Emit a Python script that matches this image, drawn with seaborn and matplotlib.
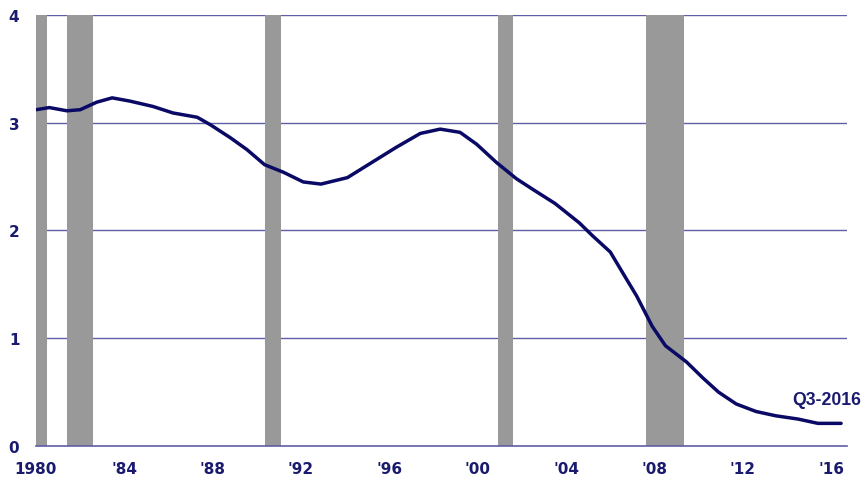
import pandas as pd
import matplotlib
matplotlib.use('Agg')
import matplotlib.pyplot as plt
import seaborn as sns

# values
years = [1980.0, 1980.6, 1981.4, 1982.0, 1982.75, 1983.45, 1984.25, 1985.3, 1986.2,
         1987.3, 1987.9, 1988.8, 1989.55, 1990.35, 1991.2, 1992.1, 1992.9, 1994.1,
         1995.2, 1996.3, 1997.4, 1998.3, 1999.2, 1999.95, 2000.85, 2001.75, 2002.5,
         2003.5, 2004.6, 2005.2, 2006.0, 2006.7, 2007.2, 2007.9, 2008.5, 2009.45,
         2010.2, 2010.9, 2011.7, 2012.6, 2013.5, 2014.5, 2015.4, 2016.45]
values = [3.12, 3.14, 3.11, 3.12, 3.19, 3.23, 3.20, 3.15, 3.09,
          3.05, 2.98, 2.86, 2.75, 2.61, 2.54, 2.45, 2.43, 2.49,
          2.63, 2.77, 2.90, 2.94, 2.91, 2.80, 2.63, 2.48, 2.38,
          2.25, 2.07, 1.95, 1.80, 1.56, 1.39, 1.11, 0.93, 0.78,
          0.63, 0.50, 0.39, 0.32, 0.28, 0.25, 0.21, 0.21]

# recession bands (start, end)
rec_start = [1980.0, 1981.4, 1990.35, 2000.9, 2007.6]
rec_end = [1980.5, 1982.6, 1991.1, 2001.6, 2009.35]

tick_years = [1980, 1984, 1988, 1992, 1996, 2000, 2004, 2008, 2012, 2016]
tick_labels = ['1980', "'84", "'88", "'92", "'96", "'00", "'04", "'08", "'12", "'16"]

df = pd.DataFrame({'year': years, 'value': values})

sns.set_style('white')
plt.rcParams['font.family'] = ['DejaVu Sans']

navy = '#1a1a6e'
grid_col = '#5e5ea6'

fig = plt.figure(figsize=(8.63, 4.81), dpi=100)
ax = fig.add_axes([0.0417, 0.0707, 0.9393, 0.8963])

for v in [1, 2, 3, 4]:
    ax.axhline(v, color=grid_col, lw=1.0, zorder=1)

for s, e in zip(rec_start, rec_end):
    ax.axvspan(s, e, color='#999999', lw=0, zorder=2)

sns.lineplot(data=df, x='year', y='value', color='#0a0a66', lw=2.5, ax=ax, zorder=3)
ax.lines[-1].set_solid_joinstyle('round')

ax.set_xlim(1980, 2016.7)
ax.set_ylim(0, 4)
ax.set_xticks(tick_years)
ax.set_xticklabels(tick_labels)
ax.set_yticks([0, 1, 2, 3, 4])
ax.set_yticklabels(['0', '1', '2', '3', '4'])
ax.set_xlabel('')
ax.set_ylabel('')

for side in ['top', 'right', 'left']:
    ax.spines[side].set_visible(False)
ax.spines['bottom'].set_color(grid_col)
ax.spines['bottom'].set_linewidth(1.2)

ax.tick_params(axis='x', length=5, width=1.2, color=grid_col, direction='out',
               labelsize=11, labelcolor=navy, pad=6)
ax.tick_params(axis='y', length=0, labelsize=11, labelcolor=navy, pad=12)
for lab in ax.get_xticklabels() + ax.get_yticklabels():
    lab.set_fontweight('bold')

ax.text(2017.35, 0.39, 'Q3-2016', ha='right', va='baseline', fontsize=12.7,
        fontweight='bold', color=navy, family=['Liberation Sans', 'DejaVu Sans'],
        clip_on=False)

plt.savefig('out.png', dpi=100)
